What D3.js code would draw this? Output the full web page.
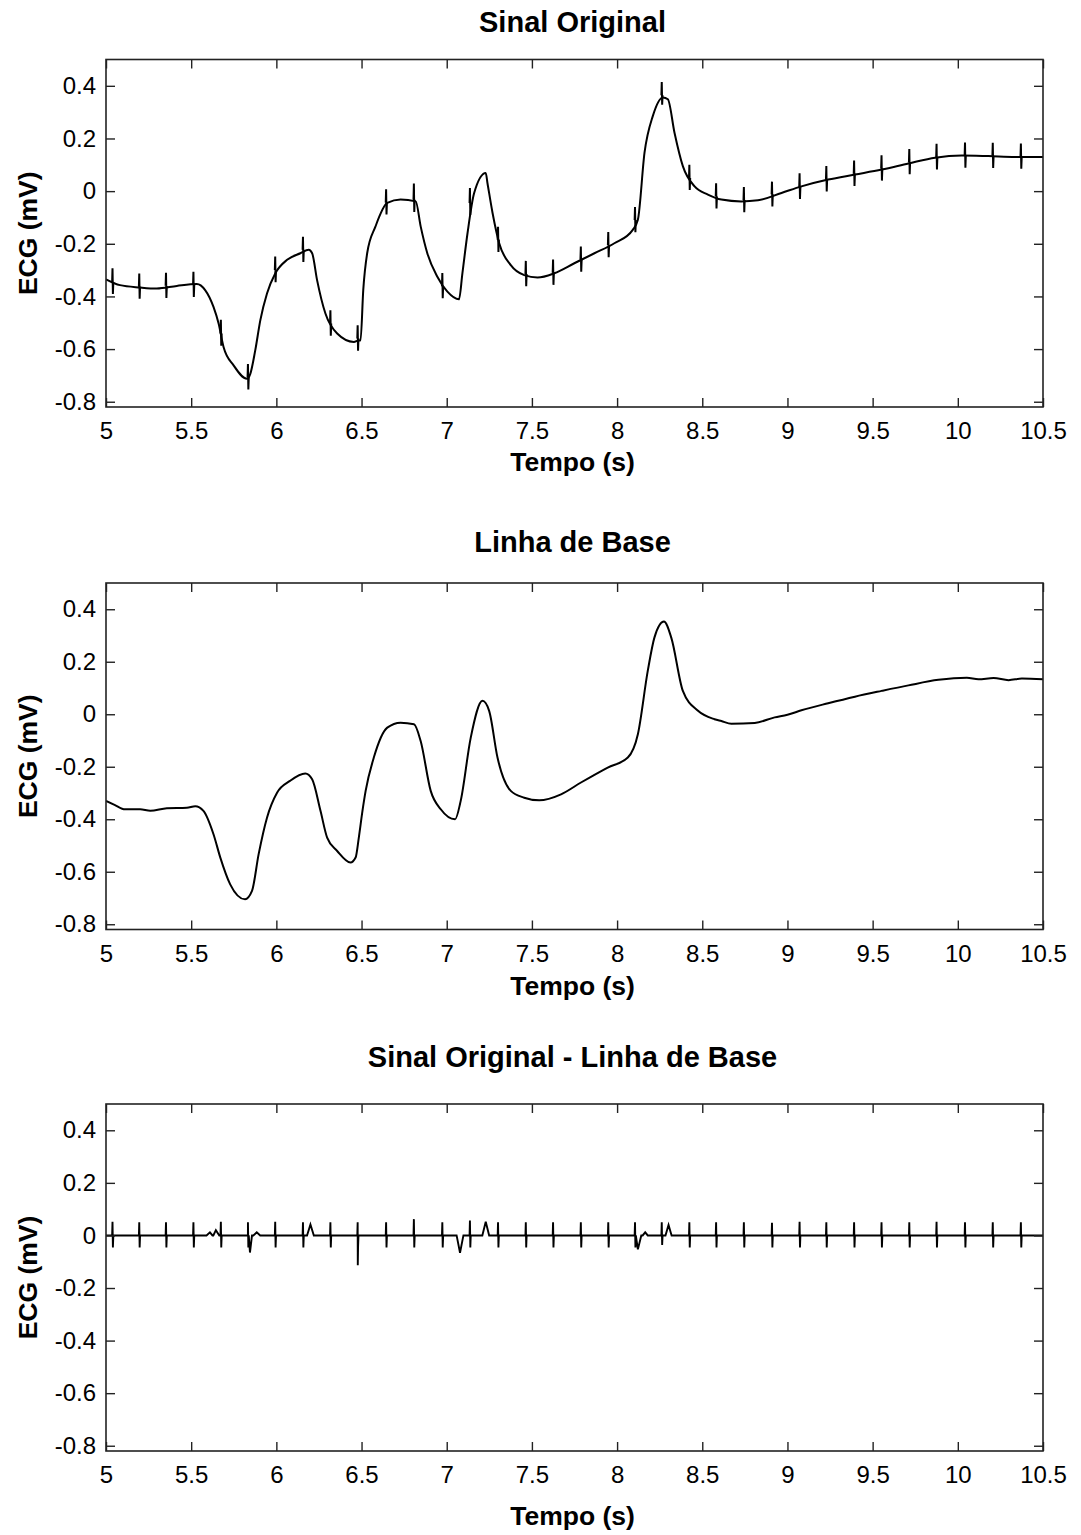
<!DOCTYPE html>
<html>
<head>
<meta charset="utf-8">
<script src="https://cdn.jsdelivr.net/npm/d3@7"></script>
<style>
  body { margin: 0; background: #fff; }
  text { font-family: "Liberation Sans", Arial, sans-serif; fill: #000; }
</style>
</head>
<body>
<div id="root"></div>
<script>
// ticks
var xTicks = [5, 5.5, 6, 6.5, 7, 7.5, 8, 8.5, 9, 9.5, 10, 10.5]
var yTicks = [-0.8, -0.6, -0.4, -0.2, 0, 0.2, 0.4]

var origT = [5.0, 5.082, 5.2, 5.298, 5.416, 5.533, 5.582, 5.631, 5.661, 5.69, 5.749, 5.828, 5.847, 5.876, 5.906, 5.945, 5.994, 6.063, 6.141, 6.19, 6.21, 6.239, 6.288, 6.357, 6.455, 6.484, 6.494, 6.51, 6.533, 6.582, 6.651, 6.729, 6.818, 6.847, 6.886, 6.945, 7.004, 7.072, 7.092, 7.122, 7.161, 7.229, 7.239, 7.269, 7.308, 7.376, 7.455, 7.533, 7.631, 7.749, 7.867, 7.984, 8.092, 8.122, 8.161, 8.21, 8.269, 8.298, 8.337, 8.386, 8.455, 8.533, 8.612, 8.729, 8.827, 8.965, 9.082, 9.239, 9.396, 9.553, 9.71, 9.867, 10.024, 10.18, 10.337, 10.5]
var origV = [-0.335, -0.357, -0.366, -0.37, -0.36, -0.353, -0.376, -0.44, -0.503, -0.592, -0.662, -0.713, -0.694, -0.605, -0.49, -0.389, -0.312, -0.261, -0.236, -0.223, -0.236, -0.338, -0.465, -0.541, -0.573, -0.567, -0.567, -0.376, -0.236, -0.134, -0.045, -0.032, -0.039, -0.134, -0.236, -0.325, -0.382, -0.411, -0.312, -0.16, -0.007, 0.069, 0.031, -0.083, -0.198, -0.281, -0.319, -0.328, -0.312, -0.274, -0.236, -0.198, -0.147, -0.109, 0.146, 0.286, 0.356, 0.349, 0.222, 0.095, 0.018, -0.013, -0.032, -0.039, -0.035, -0.007, 0.018, 0.044, 0.063, 0.082, 0.105, 0.127, 0.135, 0.133, 0.13, 0.13]

var baseT = [5.0, 5.05, 5.112, 5.2, 5.26, 5.357, 5.475, 5.524, 5.572, 5.631, 5.671, 5.729, 5.816, 5.857, 5.896, 5.945, 6.004, 6.08, 6.17, 6.21, 6.259, 6.298, 6.357, 6.435, 6.465, 6.484, 6.505, 6.524, 6.572, 6.651, 6.729, 6.808, 6.847, 6.906, 6.965, 7.049, 7.082, 7.141, 7.21, 7.249, 7.298, 7.376, 7.455, 7.543, 7.671, 7.788, 7.945, 8.063, 8.122, 8.18, 8.219, 8.275, 8.318, 8.386, 8.475, 8.572, 8.612, 8.671, 8.808, 8.925, 9.0, 9.082, 9.239, 9.396, 9.553, 9.71, 9.886, 10.053, 10.121, 10.21, 10.298, 10.376, 10.5]
var baseV = [-0.33, -0.345, -0.362, -0.362, -0.368, -0.358, -0.356, -0.35, -0.368, -0.457, -0.546, -0.648, -0.705, -0.673, -0.533, -0.394, -0.299, -0.254, -0.226, -0.248, -0.368, -0.47, -0.521, -0.565, -0.546, -0.47, -0.37, -0.292, -0.165, -0.051, -0.032, -0.038, -0.102, -0.292, -0.362, -0.4, -0.33, -0.089, 0.051, 0.013, -0.165, -0.292, -0.318, -0.328, -0.305, -0.26, -0.203, -0.165, -0.076, 0.165, 0.292, 0.353, 0.292, 0.089, 0.013, -0.019, -0.026, -0.036, -0.033, -0.012, -0.002, 0.015, 0.042, 0.067, 0.089, 0.11, 0.131, 0.139, 0.133, 0.138, 0.13, 0.136, 0.133]

// batimentos (QRS)
var beatT = [5.039, 5.196, 5.353, 5.514, 5.675, 5.834, 5.994, 6.157, 6.318, 6.478, 6.645, 6.808, 6.975, 7.137, 7.302, 7.465, 7.625, 7.788, 7.949, 8.106, 8.263, 8.425, 8.582, 8.745, 8.91, 9.072, 9.229, 9.392, 9.553, 9.716, 9.876, 10.043, 10.206, 10.371]
var beatLevel = [-0.345, -0.363, -0.36, -0.356, -0.541, -0.707, -0.3, -0.223, -0.503, -0.56, -0.043, -0.033, -0.361, -0.045, -0.185, -0.315, -0.31, -0.26, -0.205, -0.11, 0.364, 0.05, -0.02, -0.034, -0.012, 0.016, 0.045, 0.066, 0.086, 0.11, 0.128, 0.135, 0.134, 0.131]
var beatR = [0.052, 0.05, 0.05, 0.05, 0.052, 0.05, 0.052, 0.05, 0.05, 0.05, 0.05, 0.062, 0.05, 0.057, 0.05, 0.05, 0.05, 0.05, 0.05, 0.05, 0.05, 0.05, 0.05, 0.05, 0.048, 0.052, 0.05, 0.05, 0.05, 0.05, 0.052, 0.05, 0.05, 0.05]
var beatS = [-0.046, -0.046, -0.046, -0.046, -0.046, -0.046, -0.046, -0.046, -0.046, -0.046, -0.046, -0.046, -0.046, -0.046, -0.046, -0.046, -0.046, -0.046, -0.046, -0.046, -0.036, -0.046, -0.046, -0.046, -0.046, -0.046, -0.046, -0.046, -0.046, -0.046, -0.046, -0.046, -0.046, -0.046]

// ondas que sobram no residuo (tempo, amplitude, meia-largura)
var waveT = [5.61, 5.645, 5.845, 5.885, 6.2, 6.478, 7.078, 7.229, 8.122, 8.165, 8.302]
var waveA = [0.012, 0.02, -0.065, 0.012, 0.042, -0.113, -0.066, 0.052, -0.053, 0.012, 0.04]
var waveW = [0.02, 0.02, 0.012, 0.02, 0.02, 0.018, 0.02, 0.02, 0.02, 0.015, 0.018]

var titles = ['Sinal Original', 'Linha de Base', 'Sinal Original - Linha de Base']

window.onload = function () {
    var width = 1081, height = 1535
    var svg = d3.select('#root').append('svg')
        .attr('width', width)
        .attr('height', height)

    var marginLeft = 106
    var marginRight = 1043
    var panels = [
        { top: 59.5, bottom: 407, titleY: 32, xlabY: 471 },
        { top: 583, bottom: 929.5, titleY: 552, xlabY: 995 },
        { top: 1104, bottom: 1451, titleY: 1067, xlabY: 1525 }
    ]

    var X = d3.scaleLinear().domain([5, 10.5]).range([marginLeft, marginRight])
    var fmt = function (v) { return v === 0 ? '0' : String(+v.toFixed(1)) }
    var line = d3.line().x(function (d) { return X(d[0]) })

    // pontos do residuo
    var resid = [[5, 0], [10.5, 0]]
    beatT.forEach(function (t, i) {
        resid.push([t - 0.003, 0], [t - 0.0008, beatR[i]], [t + 0.0015, beatS[i]], [t + 0.004, 0])
    })
    waveT.forEach(function (t, i) {
        resid.push([t - waveW[i], 0], [t, waveA[i]], [t + waveW[i], 0])
    })
    resid.sort(function (a, b) { return a[0] - b[0] })

    panels.forEach(function (p, k) {
        var Y = d3.scaleLinear().domain([-0.82, 0.5]).range([p.bottom, p.top])
        line.y(function (d) { return Y(d[1]) })
        var g = svg.append('g').attr('class', 'panel' + k)

        g.append('clipPath').attr('id', 'clip' + k)
            .append('rect')
            .attr('x', marginLeft).attr('y', p.top)
            .attr('width', marginRight - marginLeft).attr('height', p.bottom - p.top)

        var plot = g.append('g').attr('clip-path', 'url(#clip' + k + ')')

        if (k === 0) {
            plot.append('path')
                .datum(origT.map(function (t, i) { return [t, origV[i]] }))
                .attr('d', line.curve(d3.curveMonotoneX))
                .attr('fill', 'none').attr('stroke', '#000').attr('stroke-width', 2)
            line.curve(d3.curveLinear)
            plot.selectAll('path.qrs')
                .data(beatT)
                .enter()
                .append('path')
                .attr('class', 'qrs')
                .attr('d', function (t, i) {
                    var L = beatLevel[i]
                    return line([[t - 0.003, L], [t - 0.0008, L + beatR[i]], [t + 0.0015, L + beatS[i]], [t + 0.004, L]])
                })
                .attr('fill', 'none').attr('stroke', '#000').attr('stroke-width', 2)
        } else if (k === 1) {
            plot.append('path')
                .datum(baseT.map(function (t, i) { return [t, baseV[i]] }))
                .attr('d', line.curve(d3.curveMonotoneX))
                .attr('fill', 'none').attr('stroke', '#000').attr('stroke-width', 2)
            line.curve(d3.curveLinear)
        } else {
            plot.append('path')
                .datum(resid)
                .attr('d', line.curve(d3.curveLinear))
                .attr('fill', 'none').attr('stroke', '#000').attr('stroke-width', 1.9)
        }

        // eixos (ticks para dentro, nos quatro lados)
        var tl = 9
        var axB = g.append('g').attr('transform', 'translate(0,' + p.bottom + ')')
            .call(d3.axisBottom(X).tickValues(xTicks).tickFormat(fmt).tickSizeInner(-tl).tickSizeOuter(0).tickPadding(15))
        var axT = g.append('g').attr('transform', 'translate(0,' + p.top + ')')
            .call(d3.axisTop(X).tickValues(xTicks).tickFormat('').tickSizeInner(-tl).tickSizeOuter(0))
        var axL = g.append('g').attr('transform', 'translate(' + marginLeft + ',0)')
            .call(d3.axisLeft(Y).tickValues(yTicks).tickFormat(fmt).tickSizeInner(-tl).tickSizeOuter(0).tickPadding(10))
        var axR = g.append('g').attr('transform', 'translate(' + marginRight + ',0)')
            .call(d3.axisRight(Y).tickValues(yTicks).tickFormat('').tickSizeInner(-tl).tickSizeOuter(0))
        ;[axB, axT, axL, axR].forEach(function (a) {
            a.select('.domain').remove()
            a.selectAll('line').attr('stroke', '#222').attr('stroke-width', 1.4)
            a.selectAll('text').style('font-size', '24px').attr('fill', '#000')
        })

        g.append('rect')
            .attr('x', marginLeft).attr('y', p.top)
            .attr('width', marginRight - marginLeft).attr('height', p.bottom - p.top)
            .attr('fill', 'none').attr('stroke', '#222').attr('stroke-width', 1.6)

        var cx = (marginLeft + marginRight) / 2
        g.append('text')
            .attr('x', cx - 2).attr('y', p.titleY)
            .attr('text-anchor', 'middle')
            .style('font-size', '29px').style('font-weight', 'bold')
            .text(titles[k])
        g.append('text')
            .attr('x', cx - 2).attr('y', p.xlabY)
            .attr('text-anchor', 'middle')
            .style('font-size', '26.5px').style('font-weight', 'bold')
            .text('Tempo (s)')
        g.append('text')
            .attr('transform', 'translate(37,' + ((p.top + p.bottom) / 2) + ') rotate(-90)')
            .attr('text-anchor', 'middle')
            .style('font-size', '26.5px').style('font-weight', 'bold')
            .text('ECG (mV)')
    })
}
</script>
</body>
</html>
